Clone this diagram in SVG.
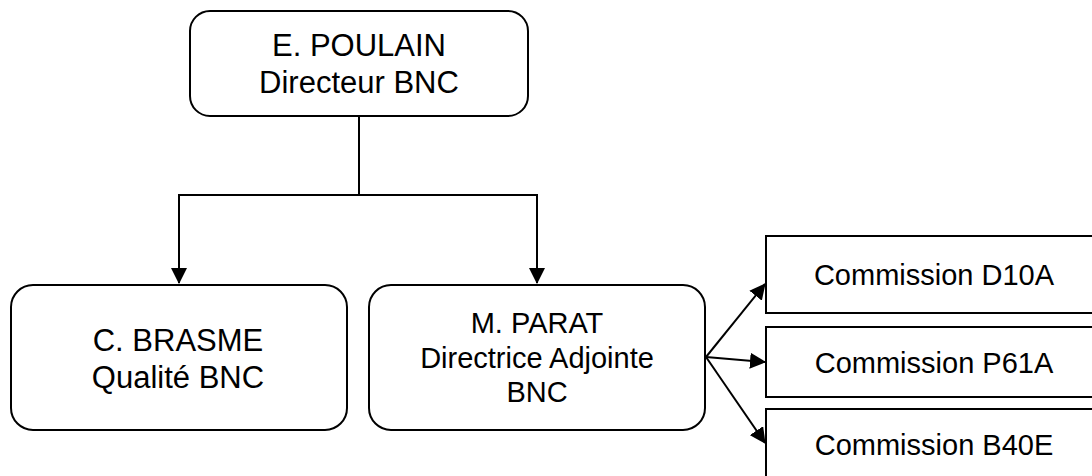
<svg xmlns="http://www.w3.org/2000/svg" width="1092" height="476" viewBox="0 0 1092 476">
<style>
.box{fill:#fff;stroke:#000;stroke-width:2}
.t{font-family:"Liberation Sans",Arial,sans-serif;fill:#000;text-anchor:middle}
.c{fill:none;stroke:#000;stroke-width:2}
</style>
<defs>
<marker id="ah" markerWidth="16" markerHeight="16" refX="15" refY="8" orient="auto" markerUnits="userSpaceOnUse">
<path d="M0,0 L16,8 L0,16 Z" fill="#000"/>
</marker>
</defs>
<rect width="1092" height="476" fill="#fff"/>
<g id="connectors">
<path class="c" d="M359,116 V195 M178,195 H538"/>
<path class="c" d="M179,195 V283" marker-end="url(#ah)"/>
<path class="c" d="M537,195 V283" marker-end="url(#ah)"/>
<path class="c" d="M706,357 L765,284" marker-end="url(#ah)"/>
<path class="c" d="M706,357 L765,362" marker-end="url(#ah)"/>
<path class="c" d="M706,357 L765,443" marker-end="url(#ah)"/>
</g>
<g id="poulain">
<rect class="box" x="190" y="11" width="338" height="105" rx="20"/>
<text class="t" x="359" y="56" font-size="31">E. POULAIN</text>
<text class="t" x="359" y="93" font-size="31">Directeur BNC</text>
</g>
<g id="brasme">
<rect class="box" x="11" y="285" width="336" height="145" rx="22"/>
<text class="t" x="178" y="351" font-size="31">C. BRASME</text>
<text class="t" x="178" y="388" font-size="31">Qualité BNC</text>
</g>
<g id="parat">
<rect class="box" x="369" y="285" width="336" height="145" rx="22"/>
<text class="t" x="537" y="333" font-size="29">M. PARAT</text>
<text class="t" x="537" y="368" font-size="29">Directrice Adjointe</text>
<text class="t" x="537" y="402" font-size="29">BNC</text>
</g>
<g id="d10a">
<rect class="box" x="766" y="236" width="340" height="77"/>
<text class="t" x="934" y="285" font-size="29">Commission D10A</text>
</g>
<g id="p61a">
<rect class="box" x="766" y="327" width="340" height="70"/>
<text class="t" x="934" y="373" font-size="29">Commission P61A</text>
</g>
<g id="b40e">
<rect class="box" x="766" y="409" width="340" height="80"/>
<text class="t" x="934" y="455" font-size="29">Commission B40E</text>
</g>
</svg>
